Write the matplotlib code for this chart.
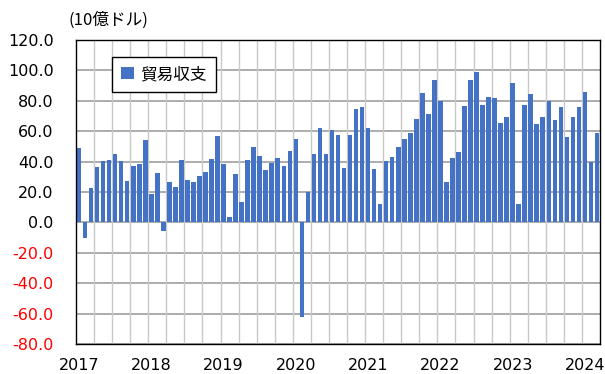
import matplotlib
matplotlib.use("Agg")
import matplotlib.pyplot as plt
from matplotlib.patches import Patch
import numpy as np

plt.rcParams['font.family'] = ['DejaVu Sans', 'Noto Sans CJK JP']

# Monthly trade balance, Jan 2017 - Mar 2024 (billion USD)
years = [2017, 2018, 2019, 2020, 2021, 2022, 2023, 2024]
balance = [
    # 2017
    48.8, -10.1, 22.4, 36.3, 40.2, 41.1, 45.1, 40.2, 27.3, 37.1, 38.7, 54.1,
    # 2018
    18.7, 32.7, -5.7, 26.4, 23.3, 40.9, 27.9, 26.4, 30.3, 33.4, 41.8, 57.1,
    # 2019
    38.7, 3.3, 31.6, 13.2, 40.9, 49.5, 43.9, 34.7, 39.3, 42.6, 37.3, 47.0,
    # 2020
    55.0, -62.0, 20.1, 44.8, 61.8, 44.8, 60.5, 57.2, 35.5, 57.4, 74.3, 75.8,
    # 2021
    62.0, 35.2, 11.9, 40.4, 42.9, 49.7, 54.9, 59.1, 68.1, 85.1, 71.2, 93.4,
    # 2022
    79.6, 26.4, 42.6, 46.4, 76.3, 93.4, 98.7, 77.1, 82.6, 81.8, 65.7, 69.5,
    # 2023
    91.9, 11.9, 77.1, 84.8, 64.8, 69.5, 79.6, 67.3, 75.6, 56.3, 69.5, 75.6,
    # 2024
    85.7, 39.6, 58.7,
]
series_name = "貿易収支"
unit_label = "(10億ドル)"
y_ticks = [-80, -60, -40, -20, 0, 20, 40, 60, 80, 100, 120]

bar_color = "#4472C4"

fig = plt.figure(figsize=(6.05, 3.74), dpi=100)
ax = fig.add_axes([76 / 605, 1 - 344 / 374, 524 / 605, 304 / 374])

x = np.arange(len(balance))
ax.bar(x, balance, width=0.76, color=bar_color, zorder=3)

ax.set_xlim(-0.5, len(balance) - 0.5)
ax.set_ylim(-80, 120)

# grid: horizontal every 20, vertical at quarter boundaries
ax.set_yticks(y_ticks)
for yv in y_ticks:
    ax.axhline(yv, color="#A6A6A6", lw=1.3, zorder=1)
for q in range(3, len(balance), 3):
    ax.axvline(q - 0.5, color="#C8C8C8", lw=1.0, zorder=1)

ax.set_yticklabels([f"{v:.1f}" for v in y_ticks])
for lbl, v in zip(ax.get_yticklabels(), y_ticks):
    lbl.set_color("red" if v < 0 else "black")

ax.set_xticks([12 * i for i in range(len(years))])
ax.set_xticklabels([str(y) for y in years])

ax.tick_params(axis="y", length=0, pad=16, labelsize=11.5)
ax.tick_params(axis="x", length=0, pad=10, labelsize=11.5)

for s in ax.spines.values():
    s.set_color("black")
    s.set_linewidth(1.0)
    s.set_zorder(4)

fig.text(68 / 605, 1 - 20 / 374, unit_label, fontsize=12, va="center", ha="left",
         family=['Noto Sans CJK JP', 'DejaVu Sans'])

leg = ax.legend(handles=[Patch(facecolor=bar_color, label=series_name)],
                loc="upper left", bbox_to_anchor=(112 / 605, 1 - 57 / 374),
                bbox_transform=fig.transFigure, frameon=True, fancybox=False,
                edgecolor="black", framealpha=1, handlelength=0.75, handleheight=0.75,
                handletextpad=0.4, borderpad=0.55, borderaxespad=0,
                prop={'family': ['Noto Sans CJK JP', 'DejaVu Sans'], 'size': 12})
leg.get_frame().set_linewidth(1.0)
leg.set_zorder(5)

fig.savefig("out.png", dpi=100)
